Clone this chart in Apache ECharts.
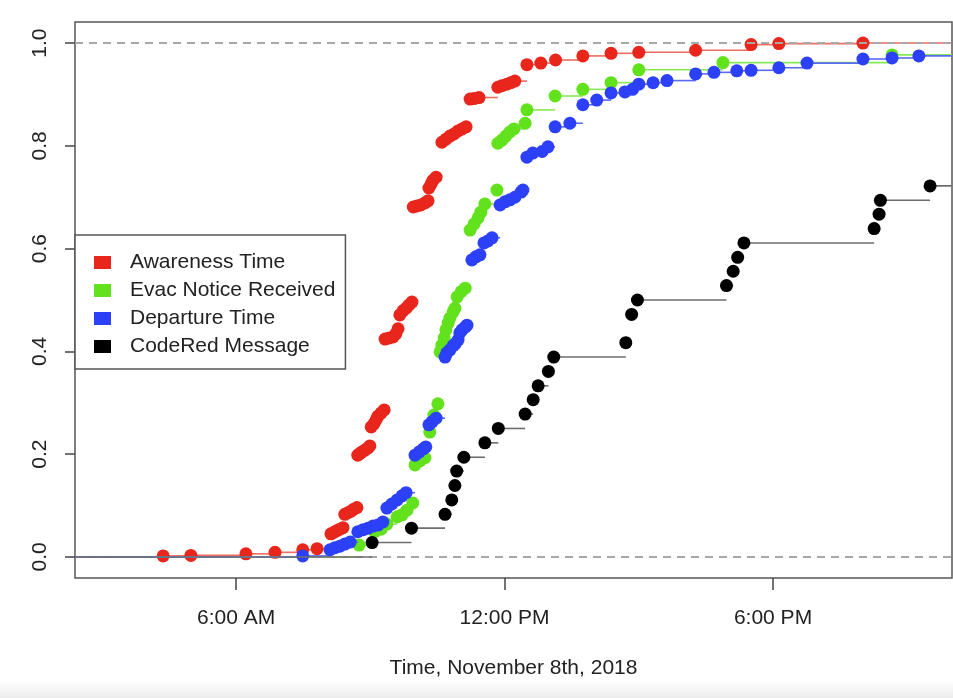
<!DOCTYPE html>
<html>
<head>
<meta charset="utf-8">
<script src="https://cdn.jsdelivr.net/npm/echarts@6/dist/echarts.min.js"></script>
<style>
  html, body { margin: 0; padding: 0; background: #fff; }
  #chart { width: 953px; height: 698px; }
</style>
</head>
<body>
<div id="chart"></div>
<script>
// x = hour of day (Nov 8th 2018), y = cumulative share
const timeTicks = [6, 12, 18];
const timeTickLabels = ["6:00 AM", "12:00 PM", "6:00 PM"];
const shareTicks = [0, 0.2, 0.4, 0.6, 0.8, 1.0];

const awareness = [
  [4.37, 0.002], [4.99, 0.003], [6.22, 0.006], [6.87, 0.009], [7.49, 0.014], [7.81, 0.016],
  [8.12, 0.045], [8.19, 0.048], [8.25, 0.051], [8.32, 0.054], [8.39, 0.057],
  [8.43, 0.083], [8.50, 0.086], [8.57, 0.089], [8.63, 0.093], [8.70, 0.096],
  [8.72, 0.198], [8.76, 0.201], [8.81, 0.204], [8.88, 0.208], [8.95, 0.212], [8.99, 0.216],
  [9.02, 0.253], [9.08, 0.259], [9.13, 0.267], [9.17, 0.274], [9.24, 0.280], [9.31, 0.286],
  [9.33, 0.424], [9.42, 0.426], [9.51, 0.428], [9.57, 0.434], [9.62, 0.444],
  [9.66, 0.471], [9.73, 0.479], [9.80, 0.484], [9.86, 0.490], [9.93, 0.496],
  [9.96, 0.681], [10.04, 0.683], [10.13, 0.685], [10.22, 0.689], [10.29, 0.693],
  [10.31, 0.718], [10.36, 0.726], [10.40, 0.733], [10.47, 0.739],
  [10.60, 0.807], [10.69, 0.813], [10.78, 0.819], [10.87, 0.823], [10.96, 0.829], [11.05, 0.833], [11.14, 0.837],
  [11.23, 0.891], [11.32, 0.892], [11.43, 0.894],
  [11.85, 0.914], [11.94, 0.917], [12.05, 0.920], [12.14, 0.923], [12.23, 0.926],
  [12.50, 0.958], [12.81, 0.961], [13.14, 0.967], [13.75, 0.975], [14.38, 0.980], [15.00, 0.982],
  [16.27, 0.986], [17.51, 0.997], [18.13, 0.999], [20.01, 1.0]
];

const evacNotice = [
  [8.75, 0.023], [9.10, 0.049], [9.24, 0.054], [9.37, 0.064],
  [9.60, 0.078], [9.71, 0.082], [9.82, 0.091], [9.95, 0.105],
  [10.00, 0.179], [10.11, 0.187], [10.22, 0.193],
  [10.33, 0.243], [10.42, 0.276], [10.51, 0.298],
  [10.56, 0.399], [10.60, 0.412], [10.65, 0.426], [10.69, 0.442], [10.74, 0.455], [10.78, 0.465], [10.85, 0.477], [10.89, 0.484],
  [10.94, 0.506], [11.03, 0.516], [11.12, 0.523],
  [11.23, 0.636], [11.32, 0.648], [11.41, 0.660], [11.47, 0.671], [11.56, 0.687], [11.83, 0.714],
  [11.85, 0.805], [11.94, 0.811], [12.03, 0.819], [12.12, 0.827], [12.21, 0.833], [12.46, 0.844],
  [12.50, 0.870], [13.13, 0.897], [13.75, 0.910], [14.38, 0.923], [15.00, 0.948], [16.88, 0.962], [20.66, 0.977]
];

const departure = [
  [7.49, 0.002], [8.10, 0.014], [8.21, 0.018], [8.32, 0.021], [8.43, 0.025], [8.55, 0.029],
  [8.72, 0.049], [8.84, 0.053], [8.95, 0.056], [9.06, 0.060], [9.17, 0.062], [9.28, 0.068],
  [9.37, 0.095], [9.48, 0.103], [9.60, 0.111], [9.71, 0.119], [9.80, 0.125],
  [10.00, 0.198], [10.09, 0.204], [10.18, 0.210], [10.24, 0.214],
  [10.31, 0.257], [10.38, 0.263], [10.47, 0.270],
  [10.67, 0.389], [10.71, 0.397], [10.78, 0.403], [10.85, 0.411], [10.89, 0.414], [10.96, 0.422],
  [11.00, 0.436], [11.05, 0.442], [11.12, 0.447], [11.16, 0.451],
  [11.27, 0.578], [11.36, 0.584], [11.45, 0.588], [11.54, 0.611], [11.63, 0.615], [11.72, 0.621],
  [11.90, 0.685], [12.01, 0.691], [12.12, 0.695], [12.23, 0.700], [12.37, 0.710], [12.41, 0.714],
  [12.50, 0.778], [12.63, 0.786], [12.84, 0.789], [12.97, 0.798], [13.13, 0.837], [13.46, 0.844],
  [13.75, 0.880], [14.06, 0.889], [14.38, 0.903], [14.69, 0.905], [14.86, 0.910], [15.00, 0.920],
  [15.32, 0.923], [15.63, 0.927], [16.27, 0.940], [16.68, 0.943], [17.19, 0.946], [17.51, 0.947],
  [18.13, 0.952], [18.76, 0.961], [20.01, 0.969], [20.66, 0.971], [21.26, 0.975]
];

const codeRed = [
  [9.04, 0.028], [9.92, 0.056], [10.67, 0.083], [10.82, 0.111], [10.89, 0.139], [10.93, 0.167],
  [11.09, 0.194], [11.56, 0.222], [11.86, 0.250], [12.46, 0.278], [12.64, 0.306], [12.75, 0.333],
  [12.98, 0.361], [13.10, 0.389], [14.71, 0.417], [14.84, 0.472], [14.97, 0.500], [16.96, 0.528],
  [17.11, 0.556], [17.21, 0.583], [17.35, 0.611], [20.26, 0.639], [20.37, 0.667], [20.40, 0.694],
  [21.51, 0.722]
];

const X_MIN = 2.4, X_MAX = 22.0;
const Y_MIN = -0.041, Y_MAX = 1.041;

const groups = [
  { name: "Awareness Time", data: awareness, color: "#e9261c", line: "#ef6a60", z: 2 },
  { name: "Evac Notice Received", data: evacNotice, color: "#62e21c", line: "#86e856", z: 4 },
  { name: "Departure Time", data: departure, color: "#2b40f7", line: "#5a6af5", z: 5 },
  { name: "CodeRed Message", data: codeRed, color: "#000000", line: "#6e6e6e", z: 6 }
];

// ecdf horizontal pieces: [xStart, y, xEnd]
function stepPieces(pts) {
  const out = [[X_MIN - 1, 0, pts[0][0]]];
  pts.forEach((p, i) => {
    const next = i < pts.length - 1 ? pts[i + 1][0] : X_MAX + 1;
    out.push([p[0], p[1], next]);
  });
  return out;
}

const series = [];
groups.forEach((g) => {
  series.push({
    name: g.name + " steps",
    type: "custom",
    clip: true,
    silent: true,
    z: g.z,
    data: stepPieces(g.data),
    encode: { x: [0, 2], y: 1 },
    renderItem: (params, api) => {
      const a = api.coord([api.value(0), api.value(1)]);
      const b = api.coord([api.value(2), api.value(1)]);
      return {
        type: "line",
        shape: { x1: a[0], y1: a[1], x2: b[0], y2: b[1] },
        style: { stroke: g.line, lineWidth: 1.6 }
      };
    }
  });
  series.push({
    name: g.name,
    type: "scatter",
    z: g.z,
    symbol: "circle",
    symbolSize: 13,
    itemStyle: { color: g.color, opacity: 1 },
    data: g.data,
    silent: true
  });
});

// grey dashed reference lines at 0 and 1
series.push({
  name: "ref",
  type: "line",
  z: 3,
  data: [],
  silent: true,
  markLine: {
    silent: true,
    symbol: "none",
    label: { show: false },
    lineStyle: { color: "#a8a8a8", type: [8, 6], width: 2 },
    data: [{ yAxis: 0 }, { yAxis: 1 }]
  }
});

const chart = echarts.init(document.getElementById("chart"), null, { renderer: "canvas" });
chart.setOption({
  animation: false,
  backgroundColor: {
    type: "linear", x: 0, y: 0, x2: 0, y2: 1,
    colorStops: [
      { offset: 0, color: "#ffffff" },
      { offset: 0.975, color: "#ffffff" },
      { offset: 1, color: "#ececec" }
    ]
  },
  textStyle: { fontFamily: "Liberation Sans, Arial, sans-serif" },
  grid: {
    left: 75, right: 1, top: 22, bottom: 120,
    show: true, borderColor: "#555", borderWidth: 1.5, backgroundColor: "transparent"
  },
  legend: {
    data: groups.map((g) => ({ name: g.name, icon: "rect" })),
    orient: "vertical",
    left: 75,
    top: 235,
    selectedMode: false,
    backgroundColor: "#fff",
    borderColor: "#555",
    borderWidth: 1.5,
    borderRadius: 0,
    padding: [17, 10, 12, 19],
    itemGap: 7,
    itemWidth: 17,
    itemHeight: 13,
    textStyle: { fontSize: 21, color: "#222", lineHeight: 19, padding: [0, 0, 0, 14] }
  },
  xAxis: {
    type: "value",
    min: X_MIN,
    max: X_MAX,
    name: "Time, November 8th, 2018",
    nameLocation: "middle",
    nameGap: 80,
    nameTextStyle: { fontSize: 21, color: "#222" },
    axisLine: { show: false, onZero: false },
    splitLine: { show: false },
    axisTick: { show: true, inside: false, length: 12, customValues: timeTicks, lineStyle: { color: "#444", width: 1.5 } },
    axisLabel: {
      customValues: timeTicks,
      margin: 30,
      fontSize: 21,
      color: "#222",
      formatter: (v) => timeTickLabels[timeTicks.indexOf(v)] || ""
    }
  },
  yAxis: {
    type: "value",
    min: Y_MIN,
    max: Y_MAX,
    axisLine: { show: false, onZero: false },
    splitLine: { show: false },
    axisTick: { show: true, inside: false, length: 10, customValues: shareTicks, lineStyle: { color: "#444", width: 1.5 } },
    axisLabel: {
      customValues: shareTicks,
      rotate: 90,
      margin: 24,
      fontSize: 21,
      color: "#222",
      formatter: (v) => v.toFixed(1)
    }
  },
  series: series
});
</script>
</body>
</html>
